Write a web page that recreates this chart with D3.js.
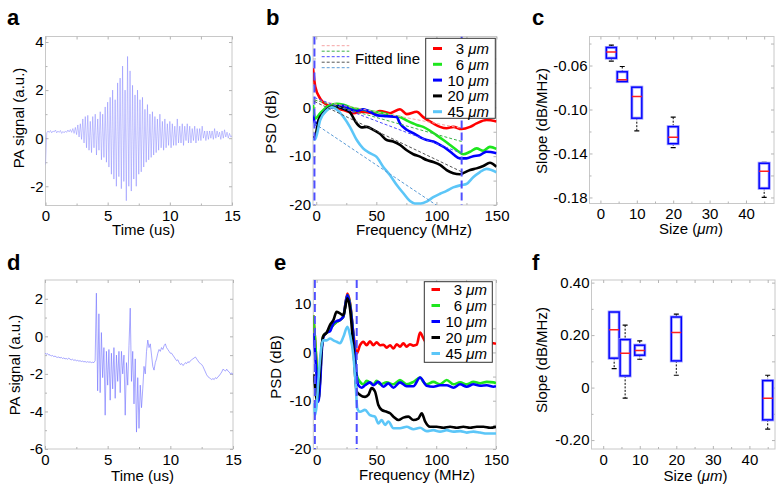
<!DOCTYPE html>
<html><head><meta charset="utf-8">
<script src="https://cdn.jsdelivr.net/npm/d3@7"></script>
<style>
body{margin:0;background:#fff;}
text{font-family:Arial,"Liberation Sans",sans-serif;fill:#000;}
</style>
</head><body>
<svg id="chart" width="782" height="493"></svg>
<script>
// ---------------- DATA ----------------
// Panel a: PA signal (a.u.), sampled every 0.1 us from 0 to 15 us
const aTimeStep = 0.1;
const aSignal = [-1.1,0.22,0.30,0.24,0.32,0.22,0.30,0.26,0.34,0.22,
0.30,0.24,0.32,0.20,0.28,0.22,0.30,0.24,0.34,0.26,
0.36,0.24,0.40,0.20,0.45,0.15,0.55,0.05,0.60,-0.05,
0.80,-0.20,0.90,-0.40,0.95,-0.50,0.70,-0.60,0.90,-0.40,
1.00,-0.70,0.80,-0.50,1.10,-0.90,1.00,-0.80,1.30,-1.00,
1.50,-1.20,1.70,-1.50,2.00,-1.70,1.60,-2.00,2.30,-1.60,
2.50,-2.10,3.00,-1.80,2.00,-2.60,3.40,-2.00,2.80,-2.20,
2.20,-1.70,1.80,-2.00,2.00,-1.50,1.60,-1.40,1.70,-1.20,
1.20,-1.00,1.40,-0.90,1.00,-0.80,1.10,-0.70,0.90,-0.60,
0.80,-0.50,1.00,-0.40,0.70,-0.50,0.80,-0.40,0.60,-0.30,
0.70,-0.40,0.60,-0.30,0.50,-0.30,0.80,-0.20,0.50,-0.20,
0.60,-0.30,0.50,-0.10,0.60,-0.20,0.50,-0.20,0.40,-0.10,
0.50,-0.20,0.40,-0.10,0.40,-0.10,0.50,0.00,0.30,-0.10,
0.30,-0.05,0.30,0.00,0.30,-0.05,0.40,0.00,0.30,0.05,
0.25,-0.05,0.30,0.00,0.35,0.05,0.25,0.00,0.20,0.05,0.10];

// Panel d: PA signal (a.u.), sampled every 0.1 us
const dTimeStep = 0.1;
const dSignal = [-0.90,-0.95,-0.92,-1.00,-0.98,-1.05,-1.02,-1.08,-1.05,-1.10,
-1.12,-1.10,-1.15,-1.12,-1.18,-1.15,-1.20,-1.18,-1.22,-1.16,
-1.22,-1.25,-1.22,-1.28,-1.25,-1.30,-1.28,-1.32,-1.30,-1.34,
-1.32,-1.36,-1.34,-1.38,-1.35,-1.38,-1.36,-1.40,-1.38,-1.40,
-1.30,2.30,-2.90,1.20,-3.00,0.20,-2.20,-0.60,-4.20,-0.80,
-2.60,-0.70,-3.40,-0.90,-2.80,-0.60,-3.30,-1.00,-2.40,-0.80,
-3.00,-0.80,-2.00,-1.00,-4.20,-1.40,-2.60,-0.50,1.50,-2.40,
-0.80,-3.60,-1.20,-5.10,-2.20,-4.90,-2.60,-3.80,-2.80,-1.60,
-2.00,-0.80,-0.20,-0.60,-0.40,-1.00,-1.60,-1.80,-1.40,-1.20,
-0.90,-0.70,-0.80,-0.60,-0.70,-0.50,-0.40,-0.60,-0.70,-0.80,
-0.90,-0.90,-1.00,-1.10,-1.20,-1.30,-1.25,-1.40,-1.50,-1.45,
-1.55,-1.50,-1.40,-1.45,-1.35,-1.40,-1.30,-1.25,-1.20,-1.15,
-1.10,-1.20,-1.30,-1.40,-1.45,-1.50,-1.60,-1.75,-1.90,-2.05,
-2.15,-2.20,-2.25,-2.30,-2.25,-2.30,-2.20,-2.25,-2.15,-2.10,
-2.00,-1.90,-1.75,-1.80,-1.85,-1.75,-1.85,-1.90,-2.00,-1.95,-2.05];

const sizeLabels = ["3", "6", "10", "20", "45"];
const seriesColors = ["#ff0000", "#1ee61e", "#0000ff", "#000000", "#5cc6f8"];
const fitColors = ["#f5a3a3", "#3cb04a", "#4b4bff", "#555555", "#5b9bd5"];

// Panel b: PSD (dB) vs frequency (MHz), [f, dB]
const bPsd3 = [[-2.7,8],[-0.8,4.2],[3.3,1.8],[8.9,0.5],[14.4,0],[22.7,-0.55],[31,-1.2],[39,-0.9],[47.5,-1.2],[53,-0.76],[61.4,-1.2],[69.7,-0.4],[75.3,-1.4],[83.6,-0.9],[89,-2],[97.4,-3.3],[103,-4],[108.5,-4.3],[114,-4],[121,-4.45],[128,-4.0],[133.4,-3.3],[141.7,-2.6],[150,-2.9]];
const bPsd6 = [[-2.7,0.5],[-1,-2.3],[3.3,-1.2],[8.9,0.1],[17,0.7],[22.7,0.5],[31,-0.2],[39,-0.5],[47.5,-0.9],[56,-1.2],[64,-1.8],[69.7,-2],[75.3,-2.7],[83.6,-3.6],[89,-4],[94.7,-4.8],[100,-5.7],[105.8,-6.7],[111.3,-7.7],[116.8,-8.75],[122.3,-9.6],[128,-9.1],[133.4,-8.4],[139,-8.9],[144.5,-8.1],[150,-8.5]];
const bPsd10 = [[-2.7,-1.6],[-0.5,-3.5],[3.3,-2],[8.9,-0.4],[14.4,0.1],[22.7,0.3],[28.2,-0.4],[33.7,-0.75],[39,-0.4],[44.7,-0.9],[50,-1.6],[58.6,-1.8],[66.8,-2],[69.7,-3.3],[75.3,-4.6],[80.8,-5.3],[86.3,-6.1],[91.9,-6.7],[97.4,-7],[103,-7.7],[108.5,-8.5],[114,-9.6],[119.5,-10.45],[125,-10.45],[130.6,-10],[136,-9.8],[141.7,-9.1],[150,-9.4]];
const bPsd20 = [[-2.7,-6],[-1.5,-6.4],[2,-2.6],[6.8,-1],[12.5,0.1],[17.8,0.1],[22.7,-0.3],[28,-1],[33.7,-3.3],[37.8,-4.1],[42,-4],[47.5,-4.6],[53,-5.4],[58.6,-6.7],[64,-7],[69.7,-7.7],[75.3,-8.8],[80.8,-9.6],[86.3,-10.1],[91.9,-10.8],[97.4,-11.2],[103,-11.8],[108.5,-12.85],[114,-13.5],[119.5,-13.7],[122,-13.5],[128,-12.85],[133.4,-12.5],[139,-12],[144.5,-11.35],[150,-12.2]];
const bPsd45 = [[-2.7,-6.3],[-1,-6.6],[3.3,-2.6],[8.9,-0.6],[13,0],[17.8,-0.6],[22.7,-2],[28,-4],[33.7,-6.7],[39,-8.4],[44.7,-9.4],[50,-10.1],[55.8,-12.2],[61.4,-13.9],[67,-15.9],[72.5,-17.6],[78,-19.2],[82,-19.7],[87,-19.7],[91.9,-19.3],[97.4,-18.4],[103,-17.7],[108.5,-17.1],[114,-16.4],[121,-15.9],[125,-15.7],[130.6,-14.3],[136,-13.3],[141.7,-12.6],[150,-13.3]];
// fitted lines: [f, dB] at start and end
const bFit3 = [[-1.5,1.5],[121,-4.3]];
const bFit6 = [[-1.5,1.5],[121,-7]];
const bFit10 = [[-1.5,2.0],[121,-9.4]];
const bFit20 = [[-1.5,1.2],[121,-13.2]];
const bFit45 = [[-1.5,-3.3],[121,-23.5]];
const bBand = [-1.5, 121];

// Panel e
const ePsd3 = [[-2.8,7.7],[-1.4,3],[0.3,-4],[1.5,-9.8],[3,-5],[4.2,1],[5.6,3.4],[8.4,4.1],[11.2,5],[14,5.7],[16.7,6.3],[19.5,6.7],[22.3,7.4],[25.7,12.2],[27.9,10.3],[30.7,4],[33.5,-0.2],[36.3,1.5],[39,2.2],[41.8,1.5],[44.6,2.3],[47.4,1.5],[50.2,2.1],[53,1.5],[55.8,1.6],[58.6,1],[61.4,1.5],[64.2,0.8],[67,1.7],[69.7,1.2],[72.5,1.9],[75.3,1.2],[78,1.7],[80.9,1.4],[83.7,1.6],[86.5,4.1],[89.3,2.9],[92,1.9],[100,1.5],[110,1.8],[120,1.5],[130,1.8],[140,1.6],[148,1.9],[150,1.8]];
const ePsd6 = [[-2.8,7.7],[-1.4,3],[0.3,-4],[1.5,-9.8],[3,-5],[4.2,1],[5.6,3.4],[8.4,4.1],[11.2,5],[14,5.7],[16.7,6.3],[19.5,6.7],[22.3,7.4],[25.7,11.9],[27.9,10.1],[30.7,3.6],[33.5,-4.7],[36.3,-6.1],[39,-6.6],[41.8,-5.9],[47.4,-6.6],[50.2,-5.9],[53,-6.6],[58.6,-6.2],[64.2,-6.6],[69.7,-5.7],[75.3,-6.6],[80.9,-6.1],[86.5,-5.2],[89.3,-6.1],[92,-6.6],[97.6,-6.1],[103.2,-6.6],[108.8,-5.7],[114.4,-6.6],[120,-6.2],[125.5,-6.6],[131.1,-6.1],[136.7,-6.4],[142.3,-6.1],[148,-6.2],[150,-6.4]];
const ePsd10 = [[-2.8,4],[-1.4,0],[0.3,-6],[1.4,-10.2],[3,-6],[4.2,0],[5.6,3.2],[8.4,4.1],[11.2,4.4],[14,6],[16.7,6.5],[19.5,6.7],[22.3,7.4],[25.7,11.9],[27.9,9.8],[30.7,3.6],[33.5,-5],[34.9,-6.8],[37.7,-7.3],[40.5,-6.8],[44.6,-6.2],[47.4,-6.8],[51.6,-6.1],[55.8,-7.1],[60,-6.4],[64.2,-7.3],[69.7,-6.2],[75.3,-7],[80.9,-7],[86.5,-5.2],[92,-6.9],[97.6,-7.1],[103.2,-6.8],[108.8,-6.8],[114.4,-7.3],[120,-6.6],[125.5,-7.1],[131.1,-6.6],[136.7,-6.9],[142.3,-6.8],[148,-7.1],[150,-7.0]];
const ePsd20 = [[-2.8,-4.5],[-1.4,-7],[0,-9.9],[1.4,-8],[3,-3],[4.2,1],[5.6,3.4],[8.4,4.1],[11.2,5.7],[14,6.7],[16.7,8.4],[19.5,8.1],[22.3,7.7],[25.7,11.2],[27.9,9.1],[30.7,1],[33.5,-8.1],[36.3,-8.8],[40.5,-9.2],[43.2,-8.8],[46,-7.4],[48.8,-8.1],[51.6,-10.9],[54.4,-11.9],[58.6,-12.3],[61.4,-12.6],[64.2,-13.3],[68.4,-14],[72.5,-13.5],[76.7,-13.3],[80.9,-14],[85,-13.7],[87.9,-12.6],[90.7,-14.3],[94.8,-15.4],[100.4,-15.4],[106,-15.6],[111.6,-15.4],[117.2,-15.6],[122.7,-15.4],[128.3,-15.6],[133.9,-15.4],[139.5,-15.4],[145.1,-15.6],[150,-15.4]];
const ePsd45 = [[-2.8,-10.5],[-1.4,-13],[0,-11],[1.4,-6],[3,-1],[4.2,1.5],[5.6,2.5],[8.4,2.5],[11.2,2.9],[14,2.5],[16.7,2.2],[19.5,1.9],[22.3,3.2],[25.7,5.3],[27.9,3.6],[30.7,-0.6],[32.5,-6],[34,-11.6],[36.3,-12.3],[40.4,-11.9],[44.6,-13],[48.8,-13.3],[51.6,-14.7],[54.4,-14],[57.2,-15],[60,-14.3],[64.2,-15.7],[69.7,-15.7],[75.3,-15.4],[80.9,-15.9],[86.5,-15.6],[92,-16.3],[97.6,-16.1],[103.2,-16.4],[108.8,-16.1],[114.4,-16.4],[120,-16.3],[125.5,-16.6],[131.1,-16.4],[136.7,-16.6],[142.3,-16.8],[148,-16.8],[150,-16.8]];
const eBand = [-1.5, 33.5];

// Panels c and f: box plots of slope (dB/MHz) vs size (um)
const boxSizes = [3, 6, 10, 20, 45];
const cWhiskerHigh = [-0.0414, -0.0609, -0.0791, -0.107, -0.148];
const cQ3 = [-0.0436, -0.0657, -0.0797, -0.1156, -0.1489];
const cMedian = [-0.0478, -0.073, -0.0882, -0.1252, -0.1562];
const cQ1 = [-0.0533, -0.0746, -0.1079, -0.1311, -0.1717];
const cWhiskerLow = [-0.056, -0.0748, -0.1195, -0.1347, -0.18];

const fWhiskerHigh = [0.29, 0.238, 0.178, 0.2796, 0.047];
const fQ3 = [0.288, 0.183, 0.1615, 0.269, 0.0267];
const fMedian = [0.22, 0.131, 0.141, 0.2095, -0.0404];
const fQ1 = [0.112, 0.0446, 0.1234, 0.1017, -0.123];
const fWhiskerLow = [0.072, -0.040, 0.108, 0.047, -0.158];

// tick values
const timeTicks = [0, 5, 10, 15], timeMinor = [2.5, 7.5, 12.5];
const aYTicks = [4, 2, 0, -2], aYMinor = [3, 1, -1];
const dYTicks = [2, 0, -2, -4, -6], dYMinor = [1, -1, -3, -5];
const freqTicks = [0, 50, 100, 150], freqMinor = [25, 75, 125];
const psdTicks = [10, 0, -10, -20], psdMinor = [5, -5, -15];
const sizeTicks = [0, 10, 20, 30, 40], sizeMinor = [5, 15, 25, 35, 45];
const cYTicks = [-0.06, -0.10, -0.14, -0.18], cYMinor = [-0.04, -0.08, -0.12, -0.16];
const fYTicks = [0.40, 0.20, 0, -0.20], fYMinor = [0.30, 0.10, -0.10];

// ---------------- DRAWING ----------------
const svg = d3.select("#chart");
const fmtInt = d => String(d);
const fmt2 = d => d === 0 ? "0" : d.toFixed(2);
let clipId = 0;

function panel(o) {
  const g = svg.append("g");
  const x = d3.scaleLinear().domain(o.xd).range([o.x0, o.x1]);
  const y = d3.scaleLinear().domain(o.yd).range([o.y1, o.y0]);
  const id = "clip" + (clipId++);
  svg.append("clipPath").attr("id", id).append("rect")
    .attr("x", o.x0).attr("y", o.y0).attr("width", o.x1 - o.x0).attr("height", o.y1 - o.y0);
  g.append("rect").attr("x", o.x0).attr("y", o.y0).attr("width", o.x1 - o.x0).attr("height", o.y1 - o.y0)
    .attr("fill", "#fff").attr("stroke", "#c8c8c8").attr("stroke-width", 1);
  const style = sel => {
    sel.select(".domain").remove();
    sel.selectAll(".tick line").attr("stroke", "#b4b4b4");
    sel.selectAll(".tick text").attr("font-size", 15).attr("fill", "#000")
       .attr("font-family", "Arial, 'Liberation Sans', sans-serif");
  };
  const both = [...o.xt, ...o.xm];
  const bothY = [...o.yt, ...o.ym];
  g.append("g").attr("transform", `translate(0,${o.y1})`)
    .call(d3.axisBottom(x).tickValues(o.xt).tickSize(-3).tickPadding(5).tickFormat(o.xf)).call(style);
  g.append("g").attr("transform", `translate(0,${o.y1})`)
    .call(d3.axisBottom(x).tickValues(o.xm).tickSize(-2).tickFormat("")).call(style);
  g.append("g").attr("transform", `translate(0,${o.y0})`)
    .call(d3.axisTop(x).tickValues(both).tickSize(-3).tickFormat("")).call(style);
  g.append("g").attr("transform", `translate(${o.x0},0)`)
    .call(d3.axisLeft(y).tickValues(o.yt).tickSize(-3).tickPadding(2).tickFormat(o.yf)).call(style);
  g.append("g").attr("transform", `translate(${o.x0},0)`)
    .call(d3.axisLeft(y).tickValues(o.ym).tickSize(-2).tickFormat("")).call(style);
  g.append("g").attr("transform", `translate(${o.x1},0)`)
    .call(d3.axisRight(y).tickValues(bothY).tickSize(-3).tickFormat("")).call(style);
  // titles
  const xt = g.append("text").attr("x", o.xtx).attr("y", o.xty).attr("text-anchor", "middle").attr("font-size", 15);
  o.xtitle.forEach(p => xt.append("tspan").attr("font-style", p.i ? "italic" : "normal").text(p.t));
  g.append("text").attr("transform", `translate(${o.ytx},${o.yty}) rotate(-90)`)
    .attr("text-anchor", "middle").attr("font-size", 15).text(o.ytitle);
  g.append("text").attr("x", o.lx).attr("y", o.ly).attr("font-size", 22).attr("font-weight", "bold").text(o.letter);
  const plot = g.append("g").attr("clip-path", `url(#${id})`);
  return {g, plot, x, y};
}

function signal(p, data, step, width, op) {
  const line = d3.line().x((d, i) => p.x(i * step)).y(d => p.y(d));
  p.plot.append("path").datum(data).attr("d", line).attr("fill", "none")
    .attr("stroke", "#7474ff").attr("stroke-width", width).attr("stroke-opacity", op)
    .attr("stroke-linejoin", "round");
}

function psdCurves(p, series) {
  const line = d3.line().x(d => p.x(d[0])).y(d => p.y(d[1])).curve(d3.curveMonotoneX);
  series.forEach((s, i) => {
    p.plot.append("path").datum(s).attr("d", line).attr("fill", "none")
      .attr("stroke", seriesColors[i]).attr("stroke-width", 2.6).attr("stroke-linejoin", "round");
  });
}

function bands(p, vals) {
  vals.forEach(v => {
    p.plot.append("line").attr("x1", p.x(v)).attr("x2", p.x(v))
      .attr("y1", p.y.range()[1]).attr("y2", p.y.range()[0])
      .attr("stroke", "#4f4fff").attr("stroke-width", 2).attr("stroke-dasharray", "8,4");
  });
}

function legend(p, bx, by, bw, bh, y0, dy, lx0, lx1, tx) {
  p.g.append("rect").attr("x", bx).attr("y", by).attr("width", bw).attr("height", bh)
    .attr("fill", "#fff").attr("stroke", "#333").attr("stroke-width", 1);
  sizeLabels.forEach((s, i) => {
    const yy = y0 + i * dy;
    p.g.append("line").attr("x1", lx0).attr("x2", lx1).attr("y1", yy).attr("y2", yy)
      .attr("stroke", seriesColors[i]).attr("stroke-width", 3);
    const t = p.g.append("text").attr("x", tx).attr("y", yy + 5.5).attr("text-anchor", "end").attr("font-size", 15);
    t.append("tspan").text(s + " ");
    t.append("tspan").attr("font-style", "italic").text("\u03bcm");
  });
}

function boxes(p, hi, q3, med, q1, lo) {
  const bw = 10, cw = 5;
  boxSizes.forEach((s, i) => {
    const cx = p.x(s);
    p.plot.append("line").attr("x1", cx).attr("x2", cx).attr("y1", p.y(hi[i])).attr("y2", p.y(q3[i]))
      .attr("stroke", "#000").attr("stroke-width", 1).attr("stroke-dasharray", "2,1.5");
    p.plot.append("line").attr("x1", cx).attr("x2", cx).attr("y1", p.y(q1[i])).attr("y2", p.y(lo[i]))
      .attr("stroke", "#000").attr("stroke-width", 1).attr("stroke-dasharray", "2,1.5");
    [hi[i], lo[i]].forEach(v => p.plot.append("line").attr("x1", cx - cw / 2).attr("x2", cx + cw / 2)
      .attr("y1", p.y(v)).attr("y2", p.y(v)).attr("stroke", "#000").attr("stroke-width", 1.2));
    p.plot.append("rect").attr("x", cx - bw / 2).attr("y", p.y(q3[i])).attr("width", bw)
      .attr("height", p.y(q1[i]) - p.y(q3[i])).attr("fill", "none")
      .attr("stroke", "#9c9cff").attr("stroke-width", 3);
    p.plot.append("rect").attr("x", cx - bw / 2).attr("y", p.y(q3[i])).attr("width", bw)
      .attr("height", p.y(q1[i]) - p.y(q3[i])).attr("fill", "none")
      .attr("stroke", "#0000ff").attr("stroke-width", 1.4);
    p.plot.append("line").attr("x1", cx - bw / 2).attr("x2", cx + bw / 2)
      .attr("y1", p.y(med[i])).attr("y2", p.y(med[i])).attr("stroke", "#ff2020").attr("stroke-width", 1.5);
  });
}

const sizeTitle = [{t: "Size ("}, {t: "\u03bcm", i: true}, {t: ")"}];

// Panel a
const pa = panel({x0: 45.5, x1: 232, y0: 36.5, y1: 205.5, xd: [0, 15], yd: [-2.8, 4.23],
  xt: timeTicks, xm: timeMinor, yt: aYTicks, ym: aYMinor, xf: fmtInt, yf: fmtInt,
  xtitle: [{t: "Time (us)"}], xtx: 143.5, xty: 235, ytitle: "PA signal (a.u.)", ytx: 24, yty: 118,
  letter: "a", lx: 7, ly: 25});
signal(pa, aSignal, aTimeStep, 0.6, 0.7);

// Panel b
const pb = panel({x0: 313, x1: 496.5, y0: 36.5, y1: 205, xd: [-2.7, 150], yd: [-20, 14.5],
  xt: freqTicks, xm: freqMinor, yt: psdTicks, ym: psdMinor, xf: fmtInt, yf: fmtInt,
  xtitle: [{t: "Frequency (MHz)"}], xtx: 414, xty: 235, ytitle: "PSD (dB)", ytx: 276, yty: 122,
  letter: "b", lx: 266, ly: 25});
psdCurves(pb, [bPsd3, bPsd6, bPsd10, bPsd20, bPsd45]);
bands(pb, bBand);
[bFit3, bFit6, bFit10, bFit20, bFit45].forEach((f, i) => {
  pb.plot.append("line").attr("x1", pb.x(f[0][0])).attr("y1", pb.y(f[0][1]))
    .attr("x2", pb.x(f[1][0])).attr("y2", pb.y(f[1][1]))
    .attr("stroke", fitColors[i]).attr("stroke-width", 1).attr("stroke-dasharray", "3,2");
});
legend(pb, 425.7, 38.3, 69.6, 80, 48.5, 15.8, 433, 442, 489);
fitColors.forEach((c, i) => {
  const yy = 45.7 + i * 5.5;
  pb.g.append("line").attr("x1", 321.7).attr("x2", 349.3).attr("y1", yy).attr("y2", yy)
    .attr("stroke", c).attr("stroke-width", 1).attr("stroke-dasharray", "3,2");
});
pb.g.append("text").attr("x", 355).attr("y", 63.5).attr("font-size", 15).text("Fitted line");

// Panel c
const pc = panel({x0: 589.5, x1: 774, y0: 36.5, y1: 203.5, xd: [-3, 47.7], yd: [-0.1855, -0.0336],
  xt: sizeTicks, xm: sizeMinor, yt: cYTicks, ym: cYMinor, xf: fmtInt, yf: fmt2,
  xtitle: sizeTitle, xtx: 691, xty: 234, ytitle: "Slope (dB/MHz)", ytx: 547, yty: 121,
  letter: "c", lx: 532, ly: 25});
boxes(pc, cWhiskerHigh, cQ3, cMedian, cQ1, cWhiskerLow);

// Panel d
const pd = panel({x0: 45, x1: 233, y0: 280, y1: 449, xd: [0, 15], yd: [-6, 3],
  xt: timeTicks, xm: timeMinor, yt: dYTicks, ym: dYMinor, xf: fmtInt, yf: fmtInt,
  xtitle: [{t: "Time (us)"}], xtx: 142.5, xty: 481, ytitle: "PA signal (a.u.)", ytx: 20, yty: 365,
  letter: "d", lx: 7, ly: 270});
signal(pd, dSignal, dTimeStep, 0.9, 0.7);

// Panel e
const pe = panel({x0: 313.3, x1: 496, y0: 280, y1: 449, xd: [-2.8, 150], yd: [-20, 15],
  xt: freqTicks, xm: freqMinor, yt: psdTicks, ym: psdMinor, xf: fmtInt, yf: fmtInt,
  xtitle: [{t: "Frequency (MHz)"}], xtx: 417, xty: 480, ytitle: "PSD (dB)", ytx: 281, yty: 367,
  letter: "e", lx: 274, ly: 270});
psdCurves(pe, [ePsd3, ePsd6, ePsd10, ePsd20, ePsd45]);
bands(pe, eBand);
legend(pe, 424.3, 281.7, 68, 80.6, 289.5, 16, 431.5, 440, 487);

// Panel f
const pf = panel({x0: 591.5, x1: 775, y0: 280, y1: 449, xd: [-3.2, 47], yd: [-0.234, 0.41],
  xt: sizeTicks, xm: sizeMinor, yt: fYTicks, ym: fYMinor, xf: fmtInt, yf: fmt2,
  xtitle: sizeTitle, xtx: 695.5, xty: 481, ytitle: "Slope (dB/MHz)", ytx: 547, yty: 360,
  letter: "f", lx: 532, ly: 270});
boxes(pf, fWhiskerHigh, fQ3, fMedian, fQ1, fWhiskerLow);
</script>
</body></html>
